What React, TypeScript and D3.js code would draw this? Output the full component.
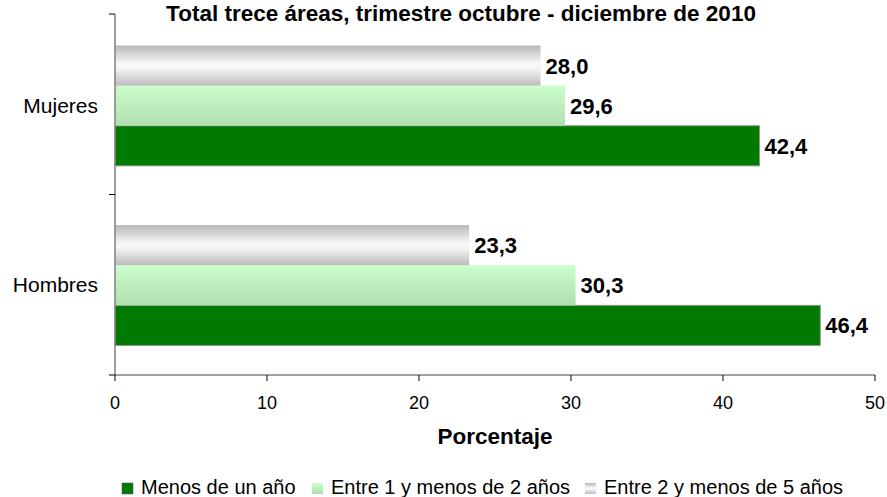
import React from 'react'
import * as d3 from 'd3'

const [WIDTH, HEIGHT] = [887, 497]
const margin = { left: 115, right: 12, top: 14, bottom: 122 }

const title = 'Total trece áreas, trimestre octubre - diciembre de 2010'
const categories = ['Mujeres', 'Hombres']
const seriesNames = ['Menos de un año', 'Entre 1 y menos de 2 años', 'Entre 2 y menos de 5 años']
const menosDeUnAno = [42.4, 46.4]
const entre1y2 = [29.6, 30.3]
const entre2y5 = [28.0, 23.3]
const xTicks = [0, 10, 20, 30, 40, 50]
const xLabel = 'Porcentaje'

const fills = ['#007a00', 'url(#gradGreen)', 'url(#gradGray)']
const fmt = (v: number) => v.toFixed(1).replace('.', ',')

export default function App() {
  const series = [menosDeUnAno, entre1y2, entre2y5]
  const plotBottom = HEIGHT - margin.bottom

  const xScale = d3.scaleLinear()
    .domain([0, 50])
    .range([margin.left, WIDTH - margin.right])
  const yScale = d3.scaleBand<string>()
    .domain(categories)
    .range([margin.top, plotBottom])
    .paddingInner(0.33)
    .paddingOuter(0.17)
  // bars inside each group: gray on top, green at the bottom
  const inner = d3.scaleBand<string>()
    .domain(['2', '1', '0'])
    .range([0, yScale.bandwidth()])

  const dividers = d3.range(categories.length + 1).map(i => margin.top + i * (plotBottom - margin.top) / categories.length)

  const legendX = [122, 312, 585]

  return (
    <svg width={WIDTH} height={HEIGHT} style={{ position: 'absolute', left: 0, top: 0, fontFamily: '"Liberation Sans", Arial, sans-serif' }}>
      <defs>
        <linearGradient id="gradGray" x1="0" y1="0" x2="0" y2="1">
          <stop offset="0" stopColor="#b8b8b8" />
          <stop offset="0.45" stopColor="#f7f7f7" />
          <stop offset="0.55" stopColor="#f7f7f7" />
          <stop offset="1" stopColor="#bcbcbc" />
        </linearGradient>
        <linearGradient id="gradGreen" x1="0" y1="0" x2="0" y2="1">
          <stop offset="0" stopColor="#ccfecc" />
          <stop offset="1" stopColor="#b0deb0" />
        </linearGradient>
      </defs>

      <text x={461} y={21} textAnchor="middle" fontWeight="bold" fontSize={22.5}>{title}</text>

      {categories.map((c, ci) => (
        <g key={c} transform={`translate(0, ${yScale(c)! + 1})`}>
          {series.map((vals, si) => (
            <g key={si}>
              <rect x={xScale(0)} y={inner(String(si))} width={xScale(vals[ci]) - xScale(0)} height={inner.bandwidth()}
                fill={fills[si]} stroke={si === 0 ? '#8a9a8a' : 'none'} strokeWidth={1} />
              <text x={xScale(vals[ci]) + 5} y={(inner(String(si)) as number) + inner.bandwidth() / 2} dy="0.36em"
                fontWeight="bold" fontSize={22}>{fmt(vals[ci])}</text>
            </g>
          ))}
          <text x={margin.left - 17} y={yScale.bandwidth() / 2} dy="0.33em" textAnchor="end" fontSize={21}>{c}</text>
        </g>
      ))}

      {/* axes */}
      <line x1={xScale(0)} x2={xScale(0)} y1={margin.top} y2={plotBottom} stroke="#808080" strokeWidth={1.5} />
      {dividers.map((y, i) => (
        <line key={i} x1={xScale(0) - 6} x2={xScale(0)} y1={y} y2={y} stroke="#000" strokeWidth={1} />
      ))}
      <line x1={xScale(0)} x2={xScale(50)} y1={plotBottom} y2={plotBottom} stroke="#808080" strokeWidth={1.5} />
      {xTicks.map(t => (
        <g key={t}>
          <line x1={xScale(t)} x2={xScale(t)} y1={plotBottom} y2={plotBottom + 6} stroke="#000" strokeWidth={1} />
          <text x={xScale(t)} y={plotBottom + 34} textAnchor="middle" fontSize={18}>{t}</text>
        </g>
      ))}
      <text x={xScale(25)} y={plotBottom + 69} textAnchor="middle" fontWeight="bold" fontSize={22.5}>{xLabel}</text>

      {/* legend */}
      {seriesNames.map((name, i) => (
        <g key={name} transform={`translate(${legendX[i]}, 483)`}>
          <rect x={0} y={0} width={11} height={11} fill={fills[i]} stroke={i === 0 ? '#555' : 'none'} strokeWidth={0.5} />
          <text x={19} y={11} fontSize={20}>{name}</text>
        </g>
      ))}
    </svg>
  )
}
